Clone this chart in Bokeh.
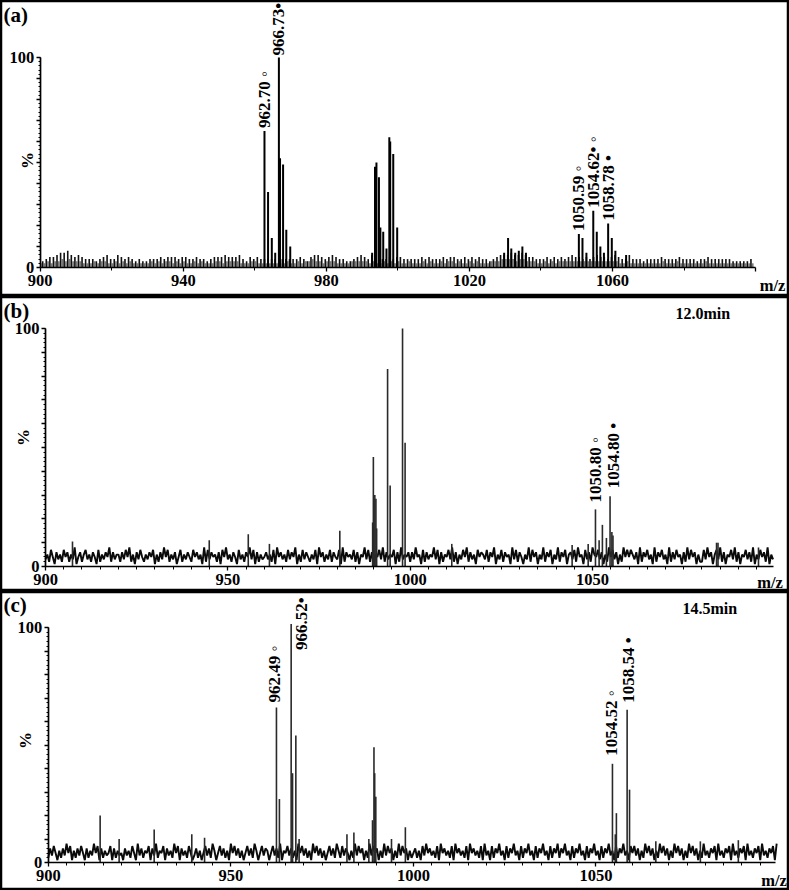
from math import pi
from bokeh.plotting import figure
from bokeh.layouts import column
from bokeh.models import FixedTicker, Label, Range1d, ColumnDataSource, LinearAxis
from bokeh.core.properties import value
from bokeh.embed import file_html
from bokeh.resources import INLINE

FONT = "Liberation Serif"

# ---------------- shared axis ticks ----------------
Y_MAJOR = [0, 10, 20, 30, 40, 50, 60, 70, 80, 90, 100]
Y_LABELS = ["0", "", "", "", "", "", "", "", "", "", "100"]
Y_MINOR = list(range(0, 101, 2))

# ---------------- panel (a) ----------------
A_X_MAJOR = [900, 940, 980, 1020, 1060, 1100]
A_X_LABELS = ["900", "940", "980", "1020", "1060", ""]
A_X_MINOR = [920, 960, 1000, 1040, 1080]

A_PEAK_MZ = [962.70, 963.70, 964.75, 965.70, 966.73, 967.05, 967.90, 968.80, 969.90,
             992.80, 993.60, 994.00, 994.70, 995.10, 995.90, 996.80, 997.60, 997.85, 998.70, 999.80,
             1029.70, 1030.80, 1031.70, 1032.80, 1033.80, 1034.80, 1035.80,
             1050.59, 1051.60, 1052.70, 1054.62, 1055.60, 1056.60, 1057.60, 1058.78, 1059.80,
             1060.80, 1063.80]
A_PEAK_I = [65, 36, 14, 7, 100, 52, 49, 18, 10,
            7, 48, 50, 43, 19, 17, 9, 62, 60, 54, 19,
            7, 14, 9, 7, 8, 10, 7,
            16, 14, 7, 27, 17, 10, 7, 21, 14,
            8, 6]
# background sticks, one per unit from 900.7
A_BG_START = 900.7
A_BG = ("3455677865" "6544434564" "4654543433" "4445455545" "5445443455"
        "5655564354" "5444444444" "4454356654" "5654433456" "5465444545"
        "5444445454" "4454554454" "5454434566" "6766765544" "4545454565"
        "5454565545" "6544644434" "4445444454" "4443445444" "444333334")
A_BG2_START = 900.2
A_BG2 = ("2232334343" "3322232332" "2323232222" "2323233232" "3223232223"
         "3233332223" "3222222223" "2232334332" "3332222333" "3323223232"
         "3223222323" "2232332322" "3232223334" "4443443332" "2323233333"
         "3333333333" "3322322222" "2222322232" "2222223222" "2222222222")
A_LAB_MZ = [962.70, 966.73, 1050.59, 1054.62, 1058.78]
A_LAB_I = [65, 100, 16, 27, 21]
A_LAB_TXT = ["962.70  \u25e6", "966.73\u2022", "1050.59 \u25e6", "1054.62\u2022 \u25e6", "1058.78 \u2022"]
A_LAB_GAP = [3, 2, 3, 3, 3]
A_LAB_DX = [0, 0, 0, 0, 0]

# ---------------- panels (b) and (c) ----------------
BC_X_MAJOR = [900, 950, 1000, 1050]
BC_X_LABELS = ["900", "950", "1000", "1050"]
BC_X_MINOR = list(range(900, 1100, 5))

B_PEAK_MZ = [907.4, 944.9, 955.6, 961.4, 980.7, 989.7, 989.9, 990.3, 990.6, 990.8,
             993.8, 994.5, 997.9, 998.6, 1011.4, 1044.4, 1048.8, 1050.80, 1051.8,
             1052.7, 1053.8, 1054.80, 1055.3, 1055.6, 1084.0, 1084.4, 1095.5]
B_PEAK_I = [10.5, 11, 13.5, 9.5, 15, 18.5, 46, 30, 28.5, 16,
            83, 34, 100, 52, 9.5, 9, 9.5, 24, 11,
            17.5, 12, 29.5, 14.5, 13, 10, 10, 8]
B_NOISE_STEP = 0.5
B_NOISE = ("3527416352746253814625735264172536482635"
           "5263748251637425364715263847253614725364"
           "2746351827364526174835264173526483716253"
           "4635271846352736481527364253718462537264"
           "3718264537261548372615473826354716283546"
           "2638451726354837162547382615374826351746"
           "5372648153726451837264153827461538264715"
           "3826471563728451736285473615284736152847"
           "4753618264735182647351826374516283746152"
           "2738461573826154738261547362815374628153")
B_LAB_MZ = [1050.80, 1054.80]
B_LAB_I = [24, 29.5]
B_LAB_TXT = ["1050.80 \u25e6", "1054.80 \u2022"]
B_LAB_GAP = [7, 8]
B_LAB_DX = [0, 3]

C_PEAK_MZ = [914.2, 919.4, 929.0, 939.3, 942.8, 962.49, 963.3, 966.52, 966.9, 967.8,
             968.7, 981.8, 983.7, 987.8, 988.8, 989.2, 989.4, 989.7, 994.0, 997.8,
             1054.52, 1055.3, 1055.6, 1058.54, 1059.2, 1066.4, 1078.6, 1089.0]
C_PEAK_I = [20, 10, 14, 12, 10.5, 66, 27, 101.5, 38, 54,
            10, 12, 12.8, 10, 18, 49, 38, 28, 10, 15,
            42, 12, 21, 65, 31, 9, 9, 9.5]
C_NOISE_STEP = 0.5
C_NOISE = ("2637415263847152637416253847162534716253"
           "4163527418362547163825471635284716352741"
           "3625147362851473625184736251473628514736"
           "5147362815473625184736251847362514736285"
           "2736415283746152837461528374615283746152"
           "4625173846352718463527184635271846352718"
           "3517264835172648351726483517264835172648"
           "2648351726483517264835172648351726483517"
           "4736152847361528473615284736152847361528"
           "3526471835264718352647183526471835264718")
C_LAB_MZ = [962.49, 966.52, 1054.52, 1058.54]
C_LAB_I = [66, 101.5, 42, 65]
C_LAB_TXT = ["962.49  \u25e6", "966.52\u2022", "1054.52 \u25e6", "1058.54  \u2022"]
C_LAB_GAP = [5, -26, 8, 7]
C_LAB_DX = [-2, 10, -1, 1]

W = 789


def digits(s):
    return [int(c) for c in s]


class Panel:
    """Figure whose frame fills the whole canvas; axes are pinned at x=900 / y=0."""

    def __init__(self, height, x900_px, sx, y0_px, sy, x_axis_end, xt_major, xt_minor, xt_labels):
        self.sx, self.sy = sx, sy
        self.x_start = 900 - x900_px / sx
        self.x_end = self.x_start + W / sx
        self.y_end = y0_px / sy
        self.y_start = self.y_end - height / sy
        p = figure(width=W, height=height,
                   x_range=Range1d(self.x_start, self.x_end),
                   y_range=Range1d(self.y_start, self.y_end),
                   output_backend="svg", toolbar_location=None,
                   x_axis_location=None, y_axis_location=None,
                   min_border=0, min_border_left=0, min_border_right=0,
                   min_border_top=0, min_border_bottom=0,
                   outline_line_color="black", outline_line_width=3.5)
        p.xgrid.visible = False
        p.ygrid.visible = False
        xa = LinearAxis(fixed_location=0, bounds=(900, x_axis_end),
                        ticker=FixedTicker(ticks=xt_major, minor_ticks=xt_minor))
        xa.major_label_overrides = dict(zip(xt_major, xt_labels))
        xa.major_tick_out = 4
        xa.minor_tick_out = 3
        xa.major_label_standoff = 3
        ya = LinearAxis(fixed_location=900, bounds=(0, 100),
                        ticker=FixedTicker(ticks=Y_MAJOR, minor_ticks=Y_MINOR))
        ya.major_label_overrides = dict(zip(Y_MAJOR, Y_LABELS))
        ya.major_tick_out = 4
        ya.minor_tick_out = 2
        ya.major_label_standoff = 2
        for ax in (xa, ya):
            ax.axis_line_width = 1.7
            ax.axis_line_color = "black"
            ax.major_tick_line_width = 1.3
            ax.major_tick_line_color = "black"
            ax.minor_tick_line_width = 1
            ax.minor_tick_line_color = "black"
            ax.major_tick_in = 0
            ax.minor_tick_in = 0
            ax.major_label_text_font = FONT
            ax.major_label_text_font_style = "bold"
            ax.major_label_text_font_size = "16.5px"
            ax.major_label_text_color = "black"
        p.add_layout(xa, "below")
        p.add_layout(ya, "left")
        self.p = p

    def X(self, px):
        return self.x_start + px / self.sx

    def Y(self, py):
        return self.y_end - py / self.sy

    def label(self, px, py, text, size="17px", align="left", baseline="middle", angle=0.0):
        self.p.add_layout(Label(x=self.X(px), y=self.Y(py), text=text, text_font=FONT,
                                text_font_style="bold", text_font_size=size,
                                text_align=align, text_baseline=baseline,
                                text_color="black", angle=angle))

    def sticks(self, mz, inten, color, width):
        self.p.segment(x0=mz, y0=[0] * len(mz), x1=mz, y1=inten,
                       line_color=color, line_width=width)

    def peak_labels(self, mz, inten, txt, gap, dx):
        src = ColumnDataSource(dict(x=mz, y=[h + g / self.sy for h, g in zip(inten, gap)],
                                    t=txt, dx=dx))
        self.p.text(x="x", y="y", text="t", x_offset="dx", source=src, angle=pi / 2,
                    text_align="left", text_baseline="middle", text_font=value(FONT),
                    text_font_style="bold", text_font_size="17px", text_color="black")


# ---------------- (a) ----------------
A = Panel(296, 39.7, 3.577, 267, 2.10, 1100, A_X_MAJOR, A_X_MINOR, A_X_LABELS)
bg2 = digits(A_BG2)
A.sticks([A_BG2_START + i for i in range(len(bg2))], bg2, "#7a7a7a", 1.7)
bg = digits(A_BG)
A.sticks([A_BG_START + i for i in range(len(bg))], bg, "#111111", 1.6)
A.sticks(A_PEAK_MZ, A_PEAK_I, "#000000", 2)
A.peak_labels(A_LAB_MZ, A_LAB_I, A_LAB_TXT, A_LAB_GAP, A_LAB_DX)
A.label(3, 2, "(a)", size="21px", baseline="top")
A.label(772, 285, "m/z", size="16.5px", align="center")
A.label(27, 160, "%", align="center", angle=pi / 2)

# ---------------- (b) ----------------
B = Panel(295, 45.0, 3.647, 270, 2.38, 1099.6, BC_X_MAJOR, BC_X_MINOR, BC_X_LABELS)
nb = digits(B_NOISE)
B.p.line([900 + B_NOISE_STEP * i for i in range(len(nb))], nb, line_color="#0a0a0a", line_width=1.9)
B.sticks(B_PEAK_MZ, B_PEAK_I, "#2a2a2a", 1.6)
B.peak_labels(B_LAB_MZ, B_LAB_I, B_LAB_TXT, B_LAB_GAP, B_LAB_DX)
B.label(3, 2, "(b)", size="21px", baseline="top")
B.label(769.5, 286, "m/z", size="16.5px", align="center")
B.label(22.5, 141, "%", align="center", angle=pi / 2)
B.label(675, 17, "12.0min", size="16px")

# ---------------- (c) ----------------
C = Panel(299, 47.8, 3.651, 271, 2.35, 1099.2, BC_X_MAJOR, BC_X_MINOR, BC_X_LABELS)
nc = digits(C_NOISE)
C.p.line([900 + C_NOISE_STEP * i for i in range(len(nc))], nc, line_color="#0a0a0a", line_width=1.9)
C.sticks(C_PEAK_MZ, C_PEAK_I, "#2a2a2a", 1.6)
C.peak_labels(C_LAB_MZ, C_LAB_I, C_LAB_TXT, C_LAB_GAP, C_LAB_DX)
C.label(3, 1, "(c)", size="21px", baseline="top")
C.label(773.5, 289, "m/z", size="16.5px", align="center")
C.label(25, 149, "%", align="center", angle=pi / 2)
C.label(682, 17, "14.5min", size="16px")

layout = column(A.p, B.p, C.p, spacing=0)
open("out.html", "w").write(file_html(layout, INLINE))
